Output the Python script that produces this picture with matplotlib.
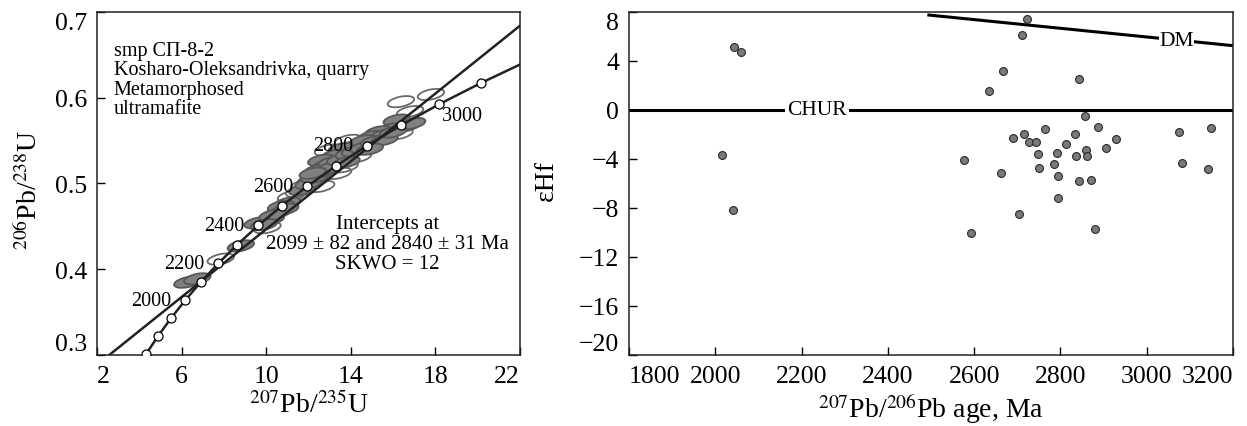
import matplotlib
matplotlib.use("Agg")
import matplotlib.pyplot as plt
from matplotlib.collections import EllipseCollection
import numpy as np

plt.rcParams['font.family'] = ['Liberation Serif', 'DejaVu Serif']
plt.rcParams['mathtext.fontset'] = 'stix'

# --- left panel: concordia (marks every 100 Ma) ---
conc_age = [1700, 1800, 1900, 2000, 2100, 2200, 2300, 2400, 2500,
            2600, 2700, 2800, 2900, 3000, 3100]
conc_x = [4.335, 4.887, 5.496, 6.169, 6.911, 7.729, 8.633, 9.629, 10.730,
          11.944, 13.283, 14.761, 16.393, 18.193, 20.179]
conc_y = [0.3017, 0.3221, 0.3428, 0.3638, 0.3851, 0.4067, 0.4287, 0.4511, 0.4737,
          0.4968, 0.5202, 0.5440, 0.5681, 0.5926, 0.6175]
# ends of the concordia where it leaves the frame
conc_start = (4.289, 0.300)
conc_end = (22.0, 0.6387)
conc_labels = [2000, 2200, 2400, 2600, 2800, 3000]

# discordia through the intercepts 2099 and 2840 Ma
disc_x = [2.58, 22.0]
disc_y = [0.300, 0.684]

# zircon error ellipses (centres), 1 = shaded, 0 = open
ell_x = [16.37, 17.79, 16.80, 16.17, 16.63, 15.92, 16.30, 15.30, 14.98, 15.45,
         14.82, 14.35, 13.95, 13.87, 13.56, 12.92, 13.24, 14.35, 12.60, 12.84,
         13.71, 12.44, 13.40, 12.60, 12.12, 11.80, 12.60, 11.56, 11.17, 11.00,
         10.70, 10.53, 10.22, 10.06, 9.59, 8.80, 7.85, 6.27, 6.74, 15.6,
         14.6, 13.1, 16.9,
         11.7, 12.0, 12.3, 12.7, 13.0, 13.5, 13.9, 14.2, 14.6, 15.1,
         15.6, 16.0, 12.2, 13.8, 14.9, 10.9, 10.3, 9.9]
ell_y = [0.5954, 0.6038, 0.5838, 0.5740, 0.5670, 0.5637, 0.5580, 0.5603, 0.5550, 0.5516,
         0.5480, 0.5445, 0.5426, 0.5503, 0.5407, 0.5390, 0.5330, 0.5311, 0.5272, 0.5214,
         0.5195, 0.5157, 0.5118, 0.5099, 0.5041, 0.4984, 0.4965, 0.4907, 0.4850, 0.4772,
         0.4734, 0.4657, 0.4580, 0.4484, 0.4542, 0.4272, 0.4118, 0.3849, 0.3888, 0.5570,
         0.5500, 0.5250, 0.5700,
         0.493, 0.500, 0.507, 0.514, 0.518, 0.528, 0.535, 0.538, 0.542, 0.549,
         0.551, 0.560, 0.512, 0.525, 0.540, 0.470, 0.463, 0.452]
ell_filled = [0, 0, 0, 1, 1, 1, 0, 1, 1, 1,
              1, 1, 0, 0, 1, 0, 1, 0, 1, 1,
              0, 1, 0, 1, 1, 0, 0, 0, 0, 1,
              1, 0, 1, 0, 1, 1, 0, 1, 1, 1,
              1, 1, 1,
              1, 1, 1, 1, 1, 1, 1, 1, 1, 1,
              1, 1, 1, 1, 1, 1, 1, 1]

# --- right panel: eHf vs age ---
age = [2044, 2060, 2016, 2040,
       2856, 2887, 2764, 2834, 2689, 2715, 2727, 2744, 2814, 2928,
       2905, 2859, 2861, 2835, 2792, 2747, 2785, 2751, 2577, 2662,
       2794, 2843, 2871, 2795, 2704, 2593, 2881, 3075, 3149, 3082, 3141,
       2723, 2710, 2666, 2635, 2843]
ehf = [5.17, 4.77, -3.66, -8.14,
       -0.46, -1.40, -1.54, -1.97, -2.32, -1.99, -2.64, -2.64, -2.75, -2.34,
       -3.12, -3.26, -3.77, -3.77, -3.50, -3.58, -4.44, -4.71, -4.12, -5.17,
       -5.41, -5.82, -5.71, -7.16, -8.46, -10.07, -9.70, -1.80, -1.48, -4.34, -4.82,
       7.41, 6.14, 3.18, 1.54, 2.53]
dm_age = [2495, 3200]
dm_ehf = [7.75, 5.25]

fig = plt.figure(figsize=(12.47, 4.27), dpi=100)
ax1 = fig.add_axes([0.0778, 0.1663, 0.3392, 0.8033])
ax2 = fig.add_axes([0.5044, 0.1663, 0.4844, 0.8033])

line_c = '#222222'

# open ellipses under the shaded ones, lines on top
n = len(ell_x)
order = np.argsort(ell_filled, kind='stable')
offs = np.column_stack([ell_x, ell_y])[order]
filled_sorted = np.asarray(ell_filled)[order]
fc = ['#808080' if f else 'none' for f in filled_sorted]
ec = ['#585858' if f else '#6a6a6a' for f in filled_sorted]
ells = EllipseCollection(widths=[27] * n, heights=[10] * n,
                         angles=[12] * n, units='dots',
                         offsets=offs, offset_transform=ax1.transData,
                         facecolors=fc, edgecolors=ec, linewidths=1.3)
ax1.add_collection(ells)

cx = [conc_start[0]] + conc_x + [conc_end[0]]
cy = [conc_start[1]] + conc_y + [conc_end[1]]
ax1.plot(cx, cy, color=line_c, lw=1.8, zorder=3)
ax1.plot(disc_x, disc_y, color=line_c, lw=1.8, zorder=3)
ax1.plot(conc_x, conc_y, 'o', ms=6.5, mfc='white', mec='black', mew=0.9, zorder=4)

for a, x, y in zip(conc_age, conc_x, conc_y):
    if a not in conc_labels:
        continue
    if a == 3000:
        ax1.annotate(str(a), (x, y), xytext=(2, -8), textcoords='offset points',
                     ha='left', va='center', fontsize=14.5)
    else:
        ax1.annotate(str(a), (x, y), xytext=(-10, 0), textcoords='offset points',
                     ha='right', va='center', fontsize=14.5)

ax1.text(0.04, 0.915, 'smp СП-8-2\nKosharo-Oleksandrivka, quarry\nMetamorphosed\nultramafite',
         transform=ax1.transAxes, ha='left', va='top', fontsize=14.5, linespacing=1.02)
ax1.text(0.686, 0.41, 'Intercepts at\n2099 ± 82 and 2840 ± 31 Ma\nSKWO = 12',
         transform=ax1.transAxes, ha='center', va='top', fontsize=15, linespacing=1.05)

ax1.set_xlim(2, 22)
ax1.set_ylim(0.3, 0.7)
ax1.set_xticks([2, 6, 10, 14, 18, 22])
ax1.set_yticks([0.3, 0.4, 0.5, 0.6, 0.7])
ax1.set_yticklabels(['0.3', '0.4', '0.5', '0.6', '0.7'])
ax1.set_xlabel(r'$^{207}$Pb/$^{235}$U', fontsize=20, labelpad=3)
ax1.set_ylabel(r'$^{206}$Pb/$^{238}$U', fontsize=20)
ax1.yaxis.set_label_coords(-0.128, 0.484)

# right panel
ax2.axhline(0, color='black', lw=2.2, zorder=2)
ax2.text(2235, 0, 'CHUR', ha='center', va='center', fontsize=15.5, zorder=3,
         bbox=dict(facecolor='white', edgecolor='none', pad=1.5))
ax2.plot(dm_age, dm_ehf, color='black', lw=2.2, zorder=2)
ax2.text(3069, 5.65, 'DM', ha='center', va='center', fontsize=15.5, zorder=3,
         bbox=dict(facecolor='white', edgecolor='none', pad=0.5))
ax2.scatter(age, ehf, s=32, c='#7a7a7a', edgecolors='#2a2a2a', linewidths=0.8, zorder=4)

ax2.set_xlim(1800, 3200)
ax2.set_ylim(-20, 8)
ax2.set_xticks(np.arange(1800, 3201, 200))
ax2.set_yticks(np.arange(-20, 9, 4))
ax2.set_xlabel(r'$^{207}$Pb/$^{206}$Pb age, Ma', fontsize=20, labelpad=3)
ax2.set_ylabel('εHf', fontsize=20)
ax2.yaxis.set_label_coords(-0.116, 0.513)

for ax in (ax1, ax2):
    ax.tick_params(direction='in', length=6, width=1, labelsize=18.5, pad=7,
                   top=False, right=False)
    for sp in ax.spines.values():
        sp.set_linewidth(1.1)
        sp.set_color('#222222')
    xl = ax.get_xticklabels()
    xl[0].set_ha('left')
    xl[-1].set_ha('right')
    yl = ax.get_yticklabels()
    yl[0].set_va('bottom')
    yl[-1].set_va('top')

fig.savefig('out.png', dpi=100)
